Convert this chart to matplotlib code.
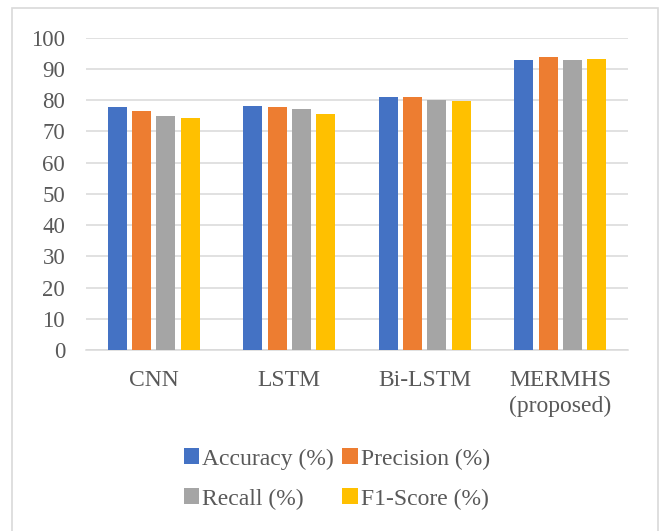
import numpy as np
import matplotlib
matplotlib.use("Agg")
from matplotlib import pyplot as plt
from matplotlib.patches import Rectangle

# values
models = ["CNN", "LSTM", "Bi-LSTM", "MERMHS\n(proposed)"]
accuracy = [77.8, 78.1, 80.9, 92.7]
precision = [76.4, 77.8, 81.0, 93.7]
recall = [75.0, 77.3, 80.1, 92.7]
f1_score = [74.3, 75.7, 79.7, 93.1]
series_names = ["Accuracy (%)", "Precision (%)", "Recall (%)", "F1-Score (%)"]
yticks = [0, 10, 20, 30, 40, 50, 60, 70, 80, 90, 100]

colors = ["#4472C4", "#ED7D31", "#A5A5A5", "#FFC000"]
txt = "#595959"

plt.rcParams['font.family'] = ['Liberation Serif', 'DejaVu Serif']
plt.rcParams['font.size'] = 16.5

fig = plt.figure(figsize=(6.62, 5.31), dpi=100)
ax = fig.add_axes([86/662, 1 - 350/531, (628 - 86)/662, (350 - 37.7)/531])

x = np.arange(len(models))
width = 0.14
pitch = 0.179
bars = []
for i, (vals, c) in enumerate(zip([accuracy, precision, recall, f1_score], colors)):
    b = ax.bar(x + (i - 1.5)*pitch, vals, width, color=c, zorder=3)
    bars.append(b)

ax.set_xlim(-0.5, len(models) - 0.5)
ax.set_ylim(0, 100)
ax.set_yticks(yticks)
ax.set_xticks(x)
ax.set_xticklabels(models, color=txt, fontsize=17, linespacing=1.3)
for lab in ax.get_yticklabels():
    lab.set_color(txt)
ax.tick_params(axis='y', length=0, pad=15)
ax.tick_params(axis='x', length=0, pad=14.5)
ax.grid(True, axis='y', color='#d9d9d9', linewidth=1.1, zorder=0)
for s in ['top', 'right', 'left']:
    ax.spines[s].set_visible(False)
ax.spines['bottom'].set_color('#d9d9d9')
ax.spines['bottom'].set_linewidth(1.1)

# legend: row 1 Accuracy / Precision, row 2 Recall / F1-Score
order = [0, 2, 1, 3]
fig.legend([bars[k] for k in order], [series_names[k] for k in order],
           ncol=2, loc='center', bbox_to_anchor=(337/662, 1 - 479/531),
           frameon=False, handlelength=0.65, handleheight=0.65,
           handletextpad=0.15, columnspacing=0.35, labelspacing=0.8,
           labelcolor=txt, fontsize=17)

# outer chart border
fig.patches.append(Rectangle((12/662, -0.05), (658 - 12)/662, 1.05 - 8/531,
                             transform=fig.transFigure, fill=False,
                             edgecolor='#d9d9d9', linewidth=1.2))

fig.savefig("out.png", dpi=100)
